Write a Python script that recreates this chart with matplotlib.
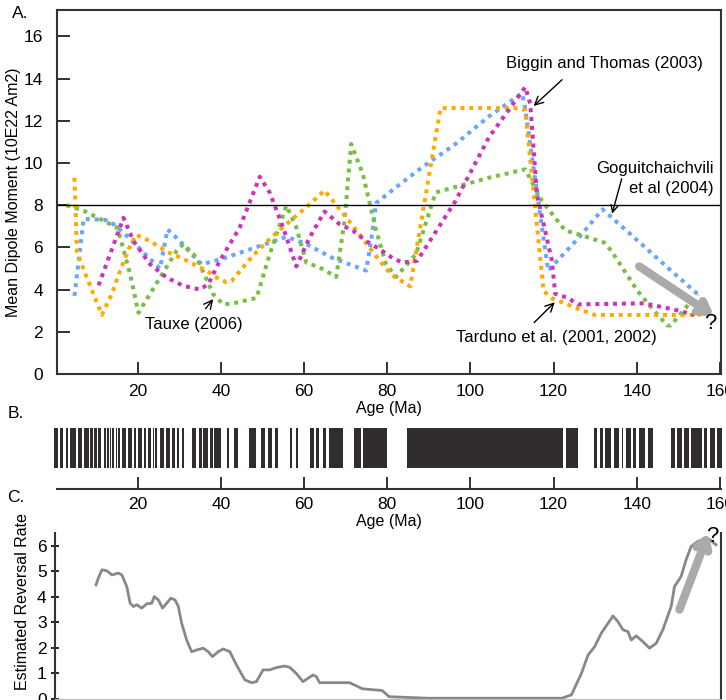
import matplotlib
matplotlib.use("Agg")
import matplotlib.pyplot as plt

plt.rcParams['font.family'] = ['Liberation Sans', 'DejaVu Sans']

# panel A: mean dipole moment (10E22 Am2) vs age (Ma)
orange_x = [4.7, 5.3, 7.0, 11.3, 13.7, 15.7, 17.7, 19.5, 22.9, 26.9, 30.8, 34.1, 36.5, 38.9, 41.3, 42.5, 47.6, 51.7, 55.7, 60.5, 64.9, 67.3, 71.0, 74.9, 78.0, 81.0, 85.5, 92.8, 111.6, 113.2, 117.6, 119.5, 125.8, 129.9, 155.4]
orange_y = [9.3, 5.8, 4.9, 2.8, 3.8, 4.9, 5.9, 6.6, 6.3, 5.8, 5.46, 5.13, 4.9, 4.57, 4.35, 4.4, 5.6, 6.4, 7.1, 7.9, 8.7, 8.1, 7.2, 6.2, 5.4, 4.7, 4.15, 12.6, 12.6, 12.5, 3.94, 3.6, 3.1, 2.8, 2.8]

blue_x = [4.7, 6.9, 12.1, 14.1, 18.1, 22.1, 25.3, 27.1, 30.1, 32.5, 35.3, 40.1, 55.7, 60.5, 66.8, 74.9, 76.1, 77.3, 82.1, 88.4, 96.4, 104.4, 112.4, 113.0, 118.7, 125.8, 131.8, 139.4, 147.4, 154.6]
blue_y = [3.7, 7.35, 7.3, 7.1, 6.4, 5.6, 5.0, 6.85, 6.3, 5.76, 5.2, 5.45, 6.5, 6.16, 5.5, 4.9, 6.3, 8.1, 8.85, 9.8, 10.9, 12.2, 13.3, 12.8, 4.9, 6.4, 7.8, 6.47, 5.05, 3.8]

magenta_x = [10.5, 16.5, 18.9, 22.9, 26.9, 30.9, 34.9, 36.9, 39.7, 44.5, 49.3, 51.7, 54.9, 58.1, 61.3, 64.9, 68.5, 71.7, 74.9, 78.1, 81.2, 83.6, 87.2, 96.4, 104.4, 113.2, 114.4, 116.0, 119.6, 120.4, 123.5, 125.8, 141.8, 149.1, 153.9]
magenta_y = [4.2, 7.4, 6.3, 5.2, 4.57, 4.18, 4.0, 4.26, 5.37, 6.95, 9.35, 8.6, 6.95, 5.1, 6.47, 7.7, 7.1, 6.8, 6.3, 5.92, 5.5, 5.28, 5.37, 8.2, 11.2, 13.6, 12.8, 8.5, 5.37, 3.8, 3.6, 3.3, 3.35, 3.05, 2.8]

green_x = [2.8, 6.9, 14.9, 15.7, 18.1, 20.1, 25.3, 29.3, 30.9, 34.1, 38.1, 40.5, 42.9, 48.5, 51.7, 55.7, 58.1, 60.5, 63.7, 67.7, 69.7, 71.3, 74.1, 77.3, 79.7, 82.1, 86.9, 91.6, 104.4, 113.2, 117.2, 122.8, 125.8, 132.2, 133.9, 140.2, 144.2, 147.4, 148.2, 154.6]
green_y = [8.0, 7.74, 6.95, 6.47, 4.73, 2.9, 4.57, 5.84, 6.16, 5.52, 3.78, 3.3, 3.35, 3.6, 5.68, 7.98, 6.95, 5.28, 5.05, 4.6, 7.26, 10.9, 9.48, 6.8, 5.2, 4.6, 5.68, 8.6, 9.3, 9.7, 8.2, 6.8, 6.63, 6.23, 5.84, 3.94, 2.99, 2.3, 2.3, 3.78]

# panel B: black (normal polarity) intervals, start and end in Ma
bar_start = [-0.3, 1.3, 2.7, 3.7, 5.5, 7.1, 8.4, 9.5, 10.4, 11.9, 12.6, 13.2, 13.8, 14.6, 15.2, 16.1, 17.7,
             19.0, 19.9, 21.5, 22.3, 23.6, 24.2, 25.2, 26.8, 28.1, 29.4, 30.5,
             33.1, 34.7, 35.6, 37.4, 38.3, 41.3, 43.2,
             46.6, 49.6, 51.2, 53.0, 56.5, 57.9,
             61.5, 62.8, 64.4, 66.0, 71.9, 74.2, 84.8, 123.0,
             129.7, 131.1, 132.5, 134.5, 136.4, 137.4, 139.2, 140.6, 142.7,
             148.2, 149.8, 151.4, 153.0, 156.2, 157.6, 159.4]
bar_end = [0.8, 2.0, 3.1, 5.0, 6.6, 8.2, 9.2, 10.2, 11.1, 12.3, 13.0, 13.5, 14.3, 15.0, 15.6, 17.2, 18.6,
           19.6, 20.9, 22.0, 23.1, 23.9, 24.6, 26.2, 27.8, 28.9, 29.9, 31.0,
           33.9, 35.3, 36.8, 38.0, 40.0, 41.9, 44.1,
           48.3, 50.6, 52.2, 53.8, 57.0, 58.4,
           62.3, 63.6, 65.3, 69.4, 73.7, 79.8, 122.3, 126.0,
           130.4, 131.8, 133.9, 135.7, 136.8, 138.7, 139.8, 141.9, 144.0,
           149.3, 150.9, 152.5, 155.7, 156.9, 158.9, 160.5]

# panel C: estimated reversal rate
rate_x = [9.9, 10.3, 11.3, 12.5, 13.7, 15.3, 16.1, 17.3, 18.1, 18.9, 19.7, 20.9, 22.1, 23.3, 23.9, 24.9, 25.9, 26.9, 27.9, 28.9, 29.7, 30.5, 31.7, 32.9, 34.1, 35.7, 36.9, 37.9, 39.3, 40.5, 42.1, 43.7, 45.7, 47.3, 48.5, 50.1, 51.7, 53.3, 55.3, 56.5, 58.1, 59.7, 60.9, 62.1, 62.9, 63.7, 70.9, 74.0, 78.8, 80.4, 90.0, 122.0, 124.3, 126.7, 128.3, 129.9, 131.5, 134.3, 135.5, 136.7, 137.9, 138.7, 139.9, 141.5, 143.1, 144.7, 146.3, 148.3, 149.1, 150.7, 151.9, 153.1, 154.7, 156.3, 157.6, 159.1]
rate_y = [4.47, 4.67, 5.06, 5.02, 4.86, 4.93, 4.86, 4.4, 3.75, 3.62, 3.69, 3.56, 3.73, 3.75, 4.01, 3.88, 3.56, 3.75, 3.95, 3.88, 3.62, 2.97, 2.31, 1.85, 1.92, 1.99, 1.85, 1.66, 1.85, 1.96, 1.85, 1.33, 0.75, 0.64, 0.68, 1.14, 1.14, 1.23, 1.29, 1.24, 1.0, 0.68, 0.81, 0.94, 0.88, 0.64, 0.64, 0.4, 0.33, 0.09, 0.03, 0.03, 0.16, 1.0, 1.72, 2.05, 2.58, 3.25, 3.03, 2.71, 2.64, 2.31, 2.47, 2.25, 1.99, 2.18, 2.71, 3.62, 4.4, 4.8, 5.45, 5.97, 6.17, 6.26, 6.24, 6.04]

W, H = 726, 700


def rect(l, t, r, b):
    return [l / W, 1 - b / H, (r - l) / W, (b - t) / H]


fig = plt.figure(figsize=(7.26, 7.0), dpi=100)
dot = (0, (1, 1.2))

# ---- A
ax = fig.add_axes(rect(57, 10, 721, 374))
ax.plot(blue_x, blue_y, color='#6aa6ff', lw=2.9, ls=dot)
ax.plot(green_x, green_y, color='#77c043', lw=2.9, ls=dot)
ax.plot(orange_x, orange_y, color='#ffaa00', lw=2.9, ls=dot)
ax.plot(magenta_x, magenta_y, color='#cc33b8', lw=2.9, ls=dot)
ax.axhline(8, color='black', lw=1)
ax.set_xlim(0.5, 160.3)
ax.set_ylim(0, 17.25)
ax.set_xticks([20, 40, 60, 80, 100, 120, 140, 160])
ax.set_yticks([0, 2, 4, 6, 8, 10, 12, 14, 16])
ax.tick_params(direction='in', length=9, width=1.3, labelsize=12.5, color='#222222')
ax.tick_params(axis='x', pad=7)
ax.tick_params(axis='y', pad=10)
for s in ax.spines.values():
    s.set_linewidth(1.5)
    s.set_color('#333333')
ax.set_ylabel('Mean Dipole Moment (10E22 Am2)', fontsize=11.5, labelpad=2)
ax.set_xlabel('Age (Ma)', fontsize=11.5, labelpad=2)

ann = dict(arrowstyle='->,head_length=0.5,head_width=0.25', color='black', lw=1)
ax.annotate('Biggin and Thomas (2003)', xy=(115.2, 12.7), xytext=(132.3, 14.7),
            fontsize=12, ha='center', va='center', arrowprops=dict(ann, shrinkA=6, shrinkB=0, relpos=(0.33, 0.0)))
ax.text(158.5, 9.76, 'Goguitchaichvili', fontsize=12, ha='right', va='center')
ax.text(158.5, 8.8, 'et al (2004)', fontsize=12, ha='right', va='center')
ax.annotate('', xy=(134.1, 7.6), xytext=(136.4, 9.25),
            arrowprops=dict(ann, shrinkA=0, shrinkB=0))
ax.annotate('Tauxe (2006)', xy=(38.1, 3.55), xytext=(33.5, 2.35),
            fontsize=12, ha='center', va='center', arrowprops=dict(ann, shrinkA=5, shrinkB=0, relpos=(0.55, 1.0)))
ax.annotate('Tarduno et al. (2001, 2002)', xy=(120.3, 3.4), xytext=(120.7, 1.72),
            fontsize=12, ha='center', va='center', arrowprops=dict(ann, shrinkA=5, shrinkB=0, relpos=(0.35, 1.0)))
ax.annotate('', xy=(158.6, 2.75), xytext=(140.6, 5.1),
            arrowprops=dict(arrowstyle='->,head_length=0.7,head_width=0.45', color='#aaaaaa', lw=6, shrinkA=0, shrinkB=0))
ax.text(157.8, 2.4, '?', fontsize=16, ha='center', va='center')
fig.text(20 / W, 1 - 13 / H, 'A.', fontsize=12.5, ha='center', va='center')

# ---- B
bx = fig.add_axes(rect(57, 428, 721, 489))
for a, b in zip(bar_start, bar_end):
    bx.bar(a, 0.656, width=b - a, bottom=0.344, align='edge', color='#322d2d', lw=0, clip_on=False)
bx.set_xlim(0.5, 160.3)
bx.set_ylim(0, 1)
bx.set_yticks([])
bx.set_xticks([20, 40, 60, 80, 100, 120, 140, 160])
for k in ['top', 'left', 'right']:
    bx.spines[k].set_visible(False)
bx.spines['bottom'].set_linewidth(1.5)
bx.spines['bottom'].set_color('#333333')
bx.tick_params(axis='x', direction='in', length=9, width=1.3, labelsize=12.5, pad=6, color='#222222')
bx.set_xlabel('Age (Ma)', fontsize=11.5, labelpad=1)
fig.text(16 / W, 1 - 414 / H, 'B.', fontsize=12.5, ha='center', va='center')
fig.text(16 / W, 1 - 497 / H, 'C.', fontsize=12.5, ha='center', va='center')

# ---- C
cx = fig.add_axes(rect(55, 533, 721, 699))
cx.plot(rate_x, rate_y, color='#888888', lw=2)
cx.annotate('', xy=(157.3, 6.5), xytext=(150.3, 3.5),
            arrowprops=dict(arrowstyle='->,head_length=0.7,head_width=0.45', color='#aaaaaa', lw=6, shrinkA=0, shrinkB=0))
cx.text(158.2, 6.35, '?', fontsize=16, ha='center', va='center')
cx.set_xlim(0.02, 160.3)
cx.set_ylim(0, 6.5)
cx.set_yticks([0, 1, 2, 3, 4, 5, 6])
cx.set_xticks([])
cx.spines['top'].set_visible(False)
cx.spines['bottom'].set_color('#bbbbbb')
cx.spines['left'].set_color('#333333')
cx.spines['right'].set_color('#333333')
cx.spines['left'].set_linewidth(1.5)
cx.spines['right'].set_linewidth(1.5)
cx.tick_params(axis='y', direction='inout', length=6, width=1.2, labelsize=12.5, pad=3)
cx.set_ylabel('Estimated Reversal Rate', fontsize=11.5)
cx.yaxis.set_label_coords(-0.038, 0.585)

fig.savefig('out.png', dpi=100)
